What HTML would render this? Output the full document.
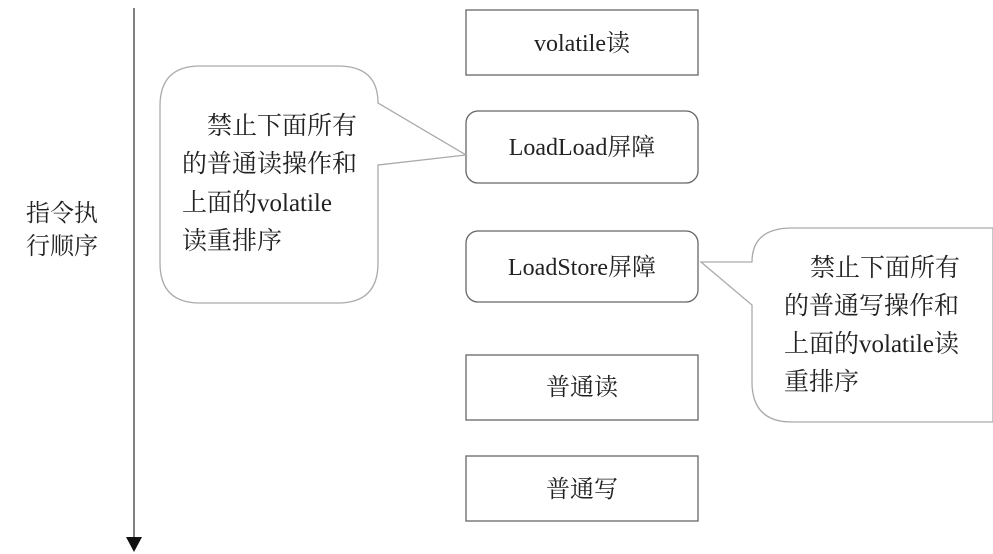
<!DOCTYPE html>
<html><head><meta charset="utf-8"><style>
html,body{margin:0;padding:0;background:#fff;}
svg{display:block;}
text{font-family:"Liberation Serif","Noto Serif CJK SC","Noto Sans CJK SC",serif;fill:#222;}
</style></head><body>
<svg width="993" height="554" viewBox="0 0 993 554" xmlns="http://www.w3.org/2000/svg">
<line x1="134" y1="8" x2="134" y2="540" stroke="#555" stroke-width="1.5"/>
<polygon points="126,537 142,537 134,552" fill="#111"/>
<text x="26" y="221" font-size="24">指令执</text>
<text x="26" y="254" font-size="24">行顺序</text>

<g fill="#fff" stroke="#666" stroke-width="1.3">
<rect x="466" y="10" width="232" height="65"/>
<rect x="466" y="111" width="232" height="72" rx="12"/>
<rect x="466" y="231" width="232" height="71" rx="12"/>
<rect x="466" y="355" width="232" height="65"/>
<rect x="466" y="456" width="232" height="65"/>
<path d="M200,66 H338 Q378,66 378,103 L466,155 L378,165 V263 Q378,303 338,303 H200 Q160,303 160,263 V106 Q160,66 200,66 Z" stroke="#aaa"/>
<path d="M792,228 H993 V422 H792 Q752,422 752,382 V305 L701,262 H752 Q752,228 792,228 Z" stroke="#aaa"/>
</g>
<g font-size="24" text-anchor="middle">
<text x="582" y="51">volatile读</text>
<text x="582" y="155">LoadLoad屏障</text>
<text x="582" y="275">LoadStore屏障</text>
<text x="582" y="395">普通读</text>
<text x="582" y="497">普通写</text>
</g>
<g font-size="25">
<text x="207" y="134">禁止下面所有</text>
<text x="182" y="172">的普通读操作和</text>
<text x="182" y="211">上面的volatile</text>
<text x="182" y="249">读重排序</text>
<text x="810" y="276">禁止下面所有</text>
<text x="784" y="314">的普通写操作和</text>
<text x="784" y="352">上面的volatile读</text>
<text x="784" y="390">重排序</text>
</g>
</svg>
</body></html>
